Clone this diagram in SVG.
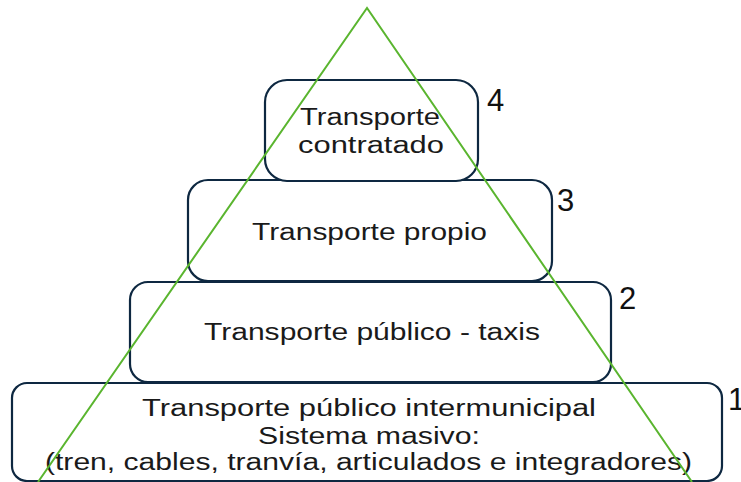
<svg xmlns="http://www.w3.org/2000/svg" width="741" height="482" viewBox="0 0 741 482">
<style>
.box{fill:#ffffff;stroke:#0e2841;stroke-width:2.2}
.t{font-family:"Liberation Sans","Noto Sans",sans-serif;font-size:23px;fill:#1a1a1a;text-anchor:start}
.n{font-family:"Liberation Sans","Noto Sans",sans-serif;font-size:31px;fill:#111111}
.g{stroke:#5ab52f;stroke-width:2;fill:none}
</style>
<rect width="741" height="482" fill="#ffffff"/>
<g id="node1">
<rect class="box" x="12" y="383" width="710" height="98" rx="15"/>
<text class="t" x="142" y="416" textLength="454" lengthAdjust="spacingAndGlyphs">Transporte público intermunicipal</text>
<text class="t" x="258" y="444" textLength="222" lengthAdjust="spacingAndGlyphs">Sistema masivo:</text>
<text class="t" x="45" y="470" textLength="647" lengthAdjust="spacingAndGlyphs">(tren, cables, tranvía, articulados e integradores)</text>
<text class="n" x="728" y="410">1</text>
</g>
<g id="node2">
<rect class="box" x="130" y="282" width="481" height="100" rx="18"/>
<text class="t" x="204" y="340" textLength="336" lengthAdjust="spacingAndGlyphs">Transporte público - taxis</text>
<text class="n" x="619" y="309">2</text>
</g>
<g id="node3">
<rect class="box" x="188" y="180" width="364" height="101" rx="20"/>
<text class="t" x="252" y="240" textLength="235" lengthAdjust="spacingAndGlyphs">Transporte propio</text>
<text class="n" x="557" y="211">3</text>
</g>
<g id="node4">
<rect class="box" x="265" y="80" width="213" height="101" rx="22"/>
<text class="t" x="300" y="125" textLength="140" lengthAdjust="spacingAndGlyphs">Transporte</text>
<text class="t" x="298" y="153" textLength="146" lengthAdjust="spacingAndGlyphs">contratado</text>
<text class="n" x="487" y="111">4</text>
</g>
<g id="connectors">
<polyline class="g" points="38,482 367,8 692,482"/>
</g>
</svg>
